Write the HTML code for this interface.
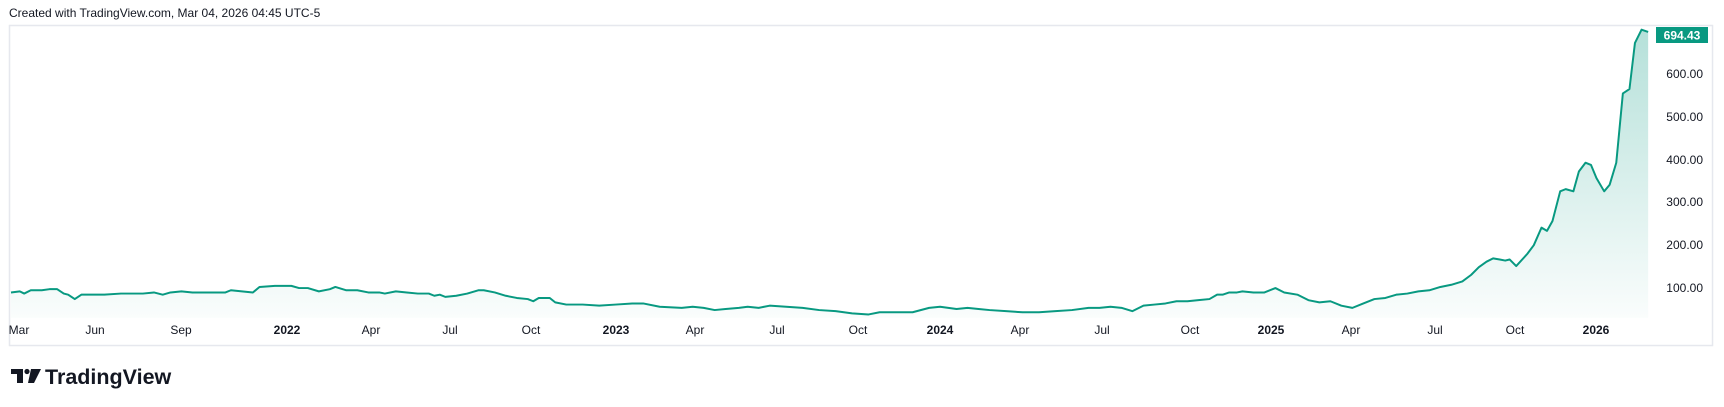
<!DOCTYPE html>
<html><head><meta charset="utf-8"><style>
html,body{margin:0;padding:0;background:#fff;}
svg{display:block;font-family:"Liberation Sans",sans-serif;}
</style></head><body>
<svg width="1724" height="407" viewBox="0 0 1724 407" xmlns="http://www.w3.org/2000/svg">
<defs>
<linearGradient id="g" x1="0" y1="0" x2="0" y2="1">
<stop offset="0" stop-color="#089981" stop-opacity="0.30"/>
<stop offset="1" stop-color="#089981" stop-opacity="0.02"/>
</linearGradient>
</defs>
<text x="9" y="17" font-size="12" fill="#131722">Created with TradingView.com, Mar 04, 2026 04:45 UTC-5</text>
<rect x="9.5" y="25.5" width="1703" height="320" fill="#fff" stroke="#e6e8ee" stroke-width="1.5"/>
<g transform="scale(1.0995)">
<polygon fill="url(#g)" points="10,266 18,265 22,267 28,264 38,264 45,263 52,263 58,267 62,268 68,272 74,268 85,268 95,268 110,267 120,267 130,267 140,266 148,268 155,266 165,265 175,266 190,266 205,266 210,264 220,265 230,266 236,261 250,260 265,260 272,262 280,262 290,265 300,263 305,261 315,264 325,264 335,266 345,266 350,267 360,265 370,266 380,267 390,267 395,269 400,268 405,270 415,269 425,267 435,264 440,264 450,266 460,269 470,271 480,272 485,274 490,271 500,271 505,275 515,277 530,277 545,278 560,277 575,276 585,276 600,279 620,280 630,279 640,280 650,282 660,281 672,280 680,279 690,280 700,278 715,279 730,280 745,282 760,283 775,285 790,286 800,284 815,284 830,284 845,280 855,279 870,281 880,280 890,281 900,282 915,283 930,284 945,284 960,283 975,282 990,280 1000,280 1010,279 1020,280 1030,283 1040,278 1050,277 1060,276 1070,274 1080,274 1090,273 1100,272 1107,268 1112,268 1118,266 1125,266 1130,265 1140,266 1150,266 1160,262 1168,266 1180,268 1190,273 1200,275 1210,274 1220,278 1230,280 1240,276 1250,272 1260,271 1270,268 1280,267 1290,265 1300,264 1310,261 1320,259 1330,256 1338,250 1345,243 1352,238 1358,235 1364,236 1369,237 1373,236 1379,242 1389,231 1395,223 1402,207 1407,210 1412,201 1419,174 1424,172 1431,174 1436,156 1442,148 1447,150 1452,162 1459,174 1464,168 1470,148 1476,85 1482,81 1487,39 1493,27 1499,29 1499,289 10,289"/>
<polyline fill="none" stroke="#089981" stroke-width="1.8" stroke-linejoin="round" points="10,266 18,265 22,267 28,264 38,264 45,263 52,263 58,267 62,268 68,272 74,268 85,268 95,268 110,267 120,267 130,267 140,266 148,268 155,266 165,265 175,266 190,266 205,266 210,264 220,265 230,266 236,261 250,260 265,260 272,262 280,262 290,265 300,263 305,261 315,264 325,264 335,266 345,266 350,267 360,265 370,266 380,267 390,267 395,269 400,268 405,270 415,269 425,267 435,264 440,264 450,266 460,269 470,271 480,272 485,274 490,271 500,271 505,275 515,277 530,277 545,278 560,277 575,276 585,276 600,279 620,280 630,279 640,280 650,282 660,281 672,280 680,279 690,280 700,278 715,279 730,280 745,282 760,283 775,285 790,286 800,284 815,284 830,284 845,280 855,279 870,281 880,280 890,281 900,282 915,283 930,284 945,284 960,283 975,282 990,280 1000,280 1010,279 1020,280 1030,283 1040,278 1050,277 1060,276 1070,274 1080,274 1090,273 1100,272 1107,268 1112,268 1118,266 1125,266 1130,265 1140,266 1150,266 1160,262 1168,266 1180,268 1190,273 1200,275 1210,274 1220,278 1230,280 1240,276 1250,272 1260,271 1270,268 1280,267 1290,265 1300,264 1310,261 1320,259 1330,256 1338,250 1345,243 1352,238 1358,235 1364,236 1369,237 1373,236 1379,242 1389,231 1395,223 1402,207 1407,210 1412,201 1419,174 1424,172 1431,174 1436,156 1442,148 1447,150 1452,162 1459,174 1464,168 1470,148 1476,85 1482,81 1487,39 1493,27 1499,29"/>
</g>
<g font-size="12" fill="#131722" text-anchor="end">
<text x="1703" y="78">600.00</text>
<text x="1703" y="121">500.00</text>
<text x="1703" y="164">400.00</text>
<text x="1703" y="206">300.00</text>
<text x="1703" y="249">200.00</text>
<text x="1703" y="292">100.00</text>
</g>
<rect x="1656" y="27" width="52" height="16" fill="#089981"/>
<text x="1682" y="39.5" font-size="12" font-weight="bold" fill="#fff" text-anchor="middle">694.43</text>
<g font-size="12" fill="#131722" text-anchor="middle">
<text x="19" y="334">Mar</text>
<text x="95" y="334">Jun</text>
<text x="181" y="334">Sep</text>
<text x="287" y="334" font-weight="bold">2022</text>
<text x="371" y="334">Apr</text>
<text x="450" y="334">Jul</text>
<text x="531" y="334">Oct</text>
<text x="616" y="334" font-weight="bold">2023</text>
<text x="695" y="334">Apr</text>
<text x="777" y="334">Jul</text>
<text x="858" y="334">Oct</text>
<text x="940" y="334" font-weight="bold">2024</text>
<text x="1020" y="334">Apr</text>
<text x="1102" y="334">Jul</text>
<text x="1190" y="334">Oct</text>
<text x="1271" y="334" font-weight="bold">2025</text>
<text x="1351" y="334">Apr</text>
<text x="1435" y="334">Jul</text>
<text x="1515" y="334">Oct</text>
<text x="1596" y="334" font-weight="bold">2026</text>
</g>
<g fill="#131722">
<path d="M11,369 h12 v14 h-6 v-9 h-6 z"/>
<circle cx="27" cy="371.5" r="2.6"/>
<path d="M31,369 h10 l-7,14 h-6 z"/>
</g>
<text x="45" y="384" font-size="21.5" font-weight="bold" fill="#131722">TradingView</text>
</svg>
</body></html>
